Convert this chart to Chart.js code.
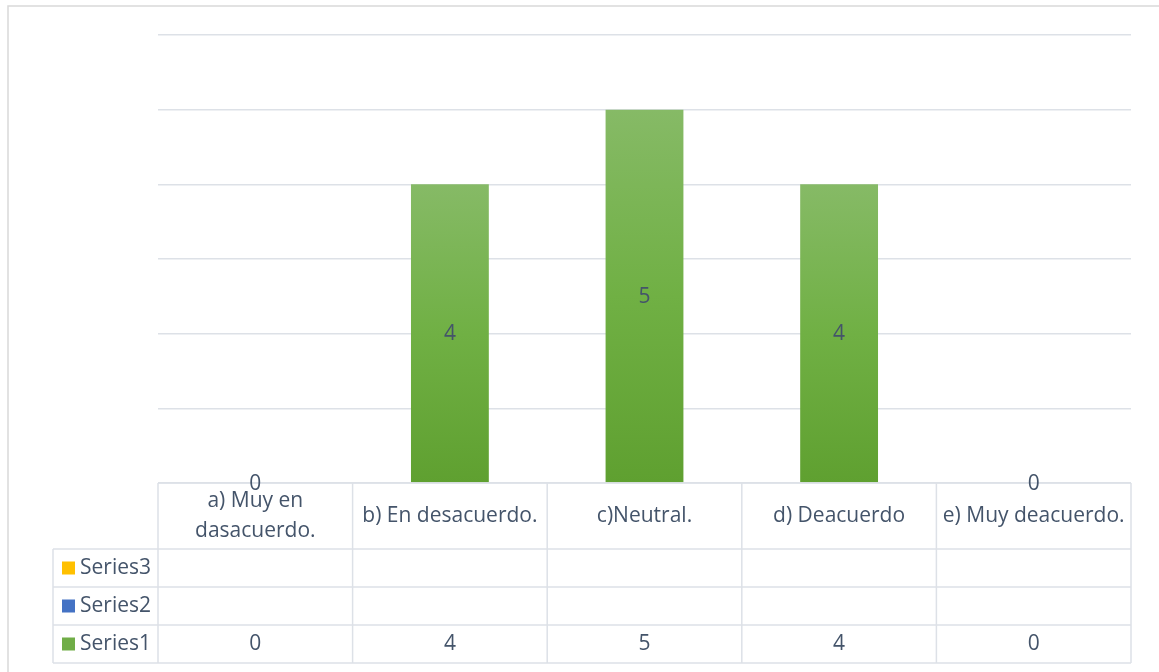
<!DOCTYPE html>
<html>
<head>
<meta charset="utf-8">
<script src="https://cdn.jsdelivr.net/npm/chart.js@4.4.0/dist/chart.umd.min.js"></script>
<style>
  html, body { margin: 0; padding: 0; background: #fff; }
  canvas { display: block; }
</style>
</head>
<body>
<canvas id="chart" width="1159" height="672"></canvas>
<script>
// data
const categories = ['a) Muy en dasacuerdo.', 'b) En desacuerdo.', 'c)Neutral.', 'd) Deacuerdo', 'e) Muy deacuerdo.'];
const seriesNames = ['Series1', 'Series2', 'Series3'];
const series1 = [0, 4, 5, 4, 0];
const series2 = [null, null, null, null, null];
const series3 = [null, null, null, null, null];
const yMax = 6;
const yStep = 1;

const textColor = '#44546A';
const lineColor = '#DDE1E7';
const fontFamily = '"Open Sans", sans-serif';
const fontSize = 21;
const keyColors = ['#70AD47', '#4472C4', '#FFC000'];

function barGradient(context) {
    var chart = context.chart;
    var area = chart.chartArea;
    var v = context.raw;
    if (!area || v === null || v === undefined) return '#70AD47';
    var y = chart.scales.y;
    var top = y.getPixelForValue(v);
    var base = y.getPixelForValue(0);
    if (base - top < 1) return '#70AD47';
    var g = chart.ctx.createLinearGradient(0, top, 0, base);
    g.addColorStop(0, '#86BA66');
    g.addColorStop(0.5, '#70B044');
    g.addColorStop(1, '#5FA030');
    return g;
}

function wrapText(c, text, maxW) {
    var words = text.split(' ');
    var lines = [];
    var cur = '';
    words.forEach(function (w) {
        var test = cur ? cur + ' ' + w : w;
        if (c.measureText(test).width > maxW && cur) {
            lines.push(cur);
            cur = w;
        } else {
            cur = test;
        }
    });
    if (cur) lines.push(cur);
    return lines;
}

const dataTablePlugin = {
    id: 'dataTable',
    afterDraw: function (chart) {
        var c = chart.ctx;
        var area = chart.chartArea;
        var xs = chart.scales.x;
        var colW = (area.right - area.left) / categories.length;
        var top = area.bottom;
        var headH = 66;
        var rowH = 38;
        var keyLeft = 53;
        var bottom = top + headH + rowH * seriesNames.length;

        c.save();
        // outer frame
        c.strokeStyle = '#D9D9D9';
        c.lineWidth = 1.5;
        c.strokeRect(8, 6, 1200, 700);

        // table grid
        c.strokeStyle = lineColor;
        c.lineWidth = 1.5;
        c.beginPath();
        c.moveTo(area.left, top);
        c.lineTo(area.right, top);
        for (var r = 0; r <= seriesNames.length; r++) {
            var ry = top + headH + r * rowH;
            c.moveTo(keyLeft, ry);
            c.lineTo(area.right, ry);
        }
        for (var i = 0; i <= categories.length; i++) {
            var vx = area.left + i * colW;
            c.moveTo(vx, top);
            c.lineTo(vx, bottom);
        }
        c.moveTo(keyLeft, top + headH);
        c.lineTo(keyLeft, bottom);
        c.stroke();

        c.fillStyle = textColor;
        c.font = fontSize + 'px ' + fontFamily;
        c.textAlign = 'center';
        c.textBaseline = 'middle';

        // category labels
        categories.forEach(function (cat, i) {
            var cx = xs.getPixelForValue(i);
            var lines = wrapText(c, cat, colW - 6);
            var lh = 30;
            var y0 = top + headH / 2 - (lines.length - 1) * lh / 2;
            lines.forEach(function (ln, k) {
                c.fillText(ln, cx, y0 + k * lh);
            });
        });

        // series rows, last series on top
        var allSeries = [series1, series2, series3];
        for (var s = 0; s < seriesNames.length; s++) {
            var rowIdx = seriesNames.length - 1 - s;
            var cy = top + headH + rowIdx * rowH + rowH / 2;
            c.fillStyle = keyColors[s];
            c.fillRect(62, cy - 6.5, 13, 13);
            c.fillStyle = textColor;
            c.textAlign = 'left';
            c.fillText(seriesNames[s], 80, cy);
            c.textAlign = 'center';
            allSeries[s].forEach(function (v, i) {
                if (v === null) return;
                c.fillText(String(v), xs.getPixelForValue(i), cy);
            });
        }

        // data labels in the middle of the bars
        var meta = chart.getDatasetMeta(0);
        meta.data.forEach(function (el, i) {
            var v = series1[i];
            c.fillText(String(v), el.x, (el.y + el.base) / 2 + 1);
        });
        c.restore();
    }
};

const ctx = document.getElementById('chart').getContext('2d');
const myChart = new Chart(ctx, {
    type: 'bar',
    data: {
        labels: categories,
        datasets: [
            { label: seriesNames[0], data: series1, backgroundColor: barGradient },
            { label: seriesNames[1], data: series2, backgroundColor: keyColors[1] },
            { label: seriesNames[2], data: series3, backgroundColor: keyColors[2] }
        ]
    },
    options: {
        responsive: false,
        animation: false,
        devicePixelRatio: 1,
        skipNull: true,
        categoryPercentage: 1,
        barPercentage: 0.4,
        layout: { padding: { left: 158, right: 28, top: 35, bottom: 189 } },
        plugins: {
            legend: { display: false },
            tooltip: { enabled: false }
        },
        scales: {
            x: { display: false },
            y: {
                min: 0,
                max: yMax,
                ticks: { display: false, stepSize: yStep },
                border: { display: false },
                grid: { color: lineColor, lineWidth: 1.5, drawTicks: false },
                afterFit: function (scale) { scale.width = 0; }
            }
        }
    },
    plugins: [dataTablePlugin]
});
</script>
</body>
</html>
